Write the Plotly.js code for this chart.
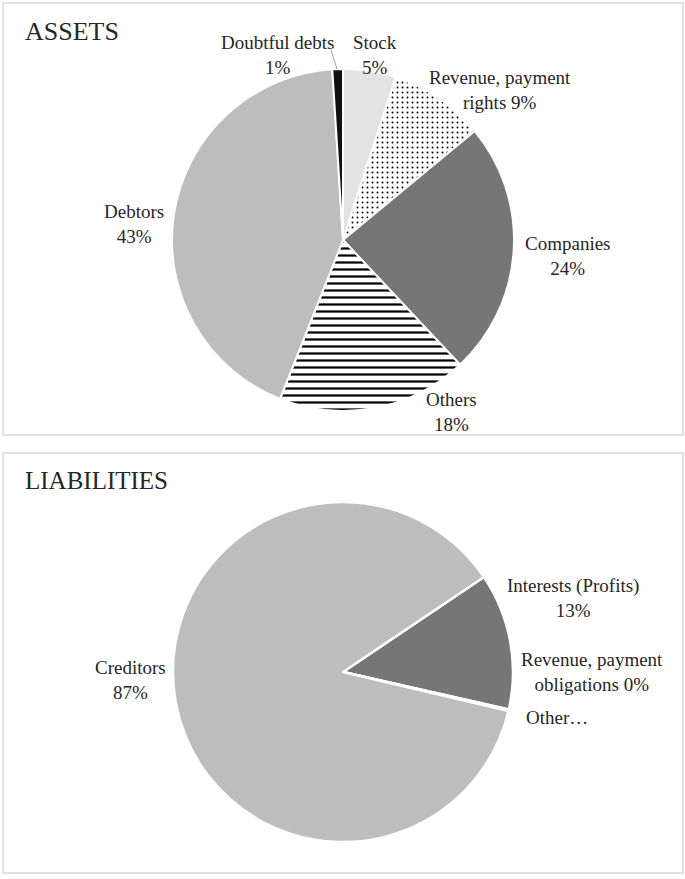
<!DOCTYPE html>
<html>
<head>
<meta charset="utf-8">
<script src="https://cdn.plot.ly/plotly-3.0.1.min.js"></script>
<style>
  body { margin: 0; background: #fff; }
  #chart { width: 685px; height: 879px; }
</style>
</head>
<body>
<div id="chart"></div>
<script>
// assets, clockwise from 12 o'clock
const assetLabels = ["Stock", "Revenue, payment rights", "Companies", "Others", "Debtors", "Doubtful debts"];
const assetValues = [5, 9, 24, 18, 43, 1];
const assetColors = ["#e3e3e3", "#ffffff", "#767676", "#ffffff", "#bdbdbd", "#111111"];
const assetPatterns = ["", ".", "", "-", "", ""];

// liabilities, clockwise starting at the Interests slice
const liabLabels = ["Interests (Profits)", "Revenue, payment obligations", "Other…", "Creditors"];
const liabValues = [13, 0.1, 0.05, 87];
const liabColors = ["#767676", "#bdbdbd", "#bdbdbd", "#bdbdbd"];

const W = 685, H = 879;
const px = (v) => v / W;
const py = (v) => 1 - v / H;

const fontFamily = "Liberation Serif";
const textColor = "#262626";
const labelFont = { family: fontFamily, size: 19, color: textColor };

const pct = (values, i) => {
  const total = values.reduce((a, b) => a + b, 0);
  return Math.round((values[i] / total) * 100) + "%";
};

const assets = {
  type: "pie",
  labels: assetLabels,
  values: assetValues,
  textinfo: "none",
  sort: false,
  direction: "clockwise",
  rotation: 0,
  marker: {
    colors: assetColors,
    line: { color: "#ffffff", width: 2 },
    pattern: {
      shape: assetPatterns,
      fgcolor: "#000000",
      size: [6, 5, 6, 7, 6, 6],
      solidity: [0.3, 0.12, 0.3, 0.32, 0.3, 0.3],
    },
  },
  domain: { x: [px(172), px(514)], y: [py(411), py(69)] },
  hoverinfo: "label+percent",
};

const liabilities = {
  type: "pie",
  labels: liabLabels,
  values: liabValues,
  textinfo: "none",
  sort: false,
  direction: "clockwise",
  rotation: 56,
  marker: {
    colors: liabColors,
    line: { color: "#ffffff", width: 2.5 },
  },
  domain: { x: [px(173), px(513)], y: [py(842), py(502)] },
  hoverinfo: "label+percent",
};

// data labels, placed the way the original (Excel) chart has them
function label(text, x, y, xanchor = "center") {
  return { text, xref: "paper", yref: "paper", x: px(x), y: py(y), xanchor, yanchor: "middle",
    align: xanchor === "left" ? "left" : "center", showarrow: false, font: labelFont };
}

const layout = {
  width: W,
  height: H,
  margin: { l: 0, r: 0, t: 0, b: 0 },
  showlegend: false,
  paper_bgcolor: "#ffffff",
  font: { family: fontFamily, color: textColor },
  shapes: [
    // panel frames
    { type: "rect", xref: "paper", yref: "paper", x0: px(3), x1: px(683), y0: py(435), y1: py(3),
      line: { color: "#d9d9d9", width: 1.5 } },
    { type: "rect", xref: "paper", yref: "paper", x0: px(3), x1: px(683), y0: py(873), y1: py(453),
      line: { color: "#d9d9d9", width: 1.5 } },
    // leader line of the "Doubtful debts" label
    { type: "line", xref: "paper", yref: "paper", x0: px(331), y0: py(50), x1: px(337), y1: py(69),
      line: { color: "#a6a6a6", width: 1 } },
  ],
  annotations: [
    { text: "ASSETS", xref: "paper", yref: "paper", x: px(23), y: py(32), xanchor: "left", yanchor: "middle",
      showarrow: false, font: { family: fontFamily, size: 26, color: textColor } },
    { text: "LIABILITIES", xref: "paper", yref: "paper", x: px(23), y: py(481), xanchor: "left", yanchor: "middle",
      showarrow: false, font: { family: fontFamily, size: 25, color: textColor } },
    label(assetLabels[0] + "<br>" + pct(assetValues, 0), 375, 55),
    label("Revenue, payment<br>rights " + pct(assetValues, 1), 500, 90),
    label(assetLabels[2] + "<br>" + pct(assetValues, 2), 568, 256),
    label(assetLabels[3] + "<br>" + pct(assetValues, 3), 452, 412),
    label(assetLabels[4] + "<br>" + pct(assetValues, 4), 134, 224),
    label(assetLabels[5] + "<br>" + pct(assetValues, 5), 277, 55),
    label(liabLabels[0] + "<br>" + pct(liabValues, 0), 573, 598),
    label("Revenue, payment<br>obligations " + pct(liabValues, 1), 592, 672),
    label(liabLabels[2], 524, 717, "left"),
    label(liabLabels[3] + "<br>" + pct(liabValues, 3), 130, 680),
  ],
};

Plotly.newPlot("chart", [assets, liabilities], layout, { displayModeBar: false, staticPlot: true });
</script>
</body>
</html>
